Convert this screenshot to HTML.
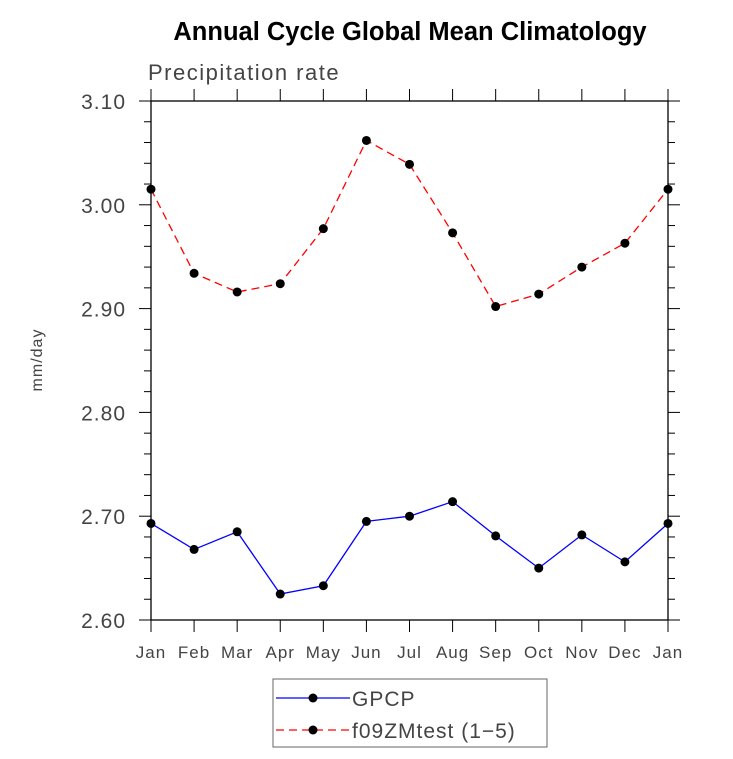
<!DOCTYPE html>
<html><head><meta charset="utf-8"><style>
body{margin:0;background:#fff}
svg text{font-family:"Liberation Sans","DejaVu Sans",sans-serif}
</style></head><body>
<svg id="c" width="733" height="754" xmlns="http://www.w3.org/2000/svg">
<rect width="733" height="754" fill="#fff"/>
<text x="410" y="40" font-size="25.5" font-weight="bold" text-anchor="middle">Annual Cycle Global Mean Climatology</text>
<text x="148" y="80" font-size="22" fill="#444" style="letter-spacing:1.5px">Precipitation rate</text>
<text transform="translate(42,360) rotate(-90)" font-size="16" fill="#444" text-anchor="middle" style="letter-spacing:1px">mm/day</text>
<g id="ax"></g>
<g id="marks"></g>
<rect x="273" y="679" width="274" height="68" fill="none" stroke="#666"/>
<line x1="276" y1="698" x2="350" y2="698" stroke="#00f" stroke-width="1.3"/>
<circle cx="313" cy="698" r="4.5" fill="#000"/>
<text x="352" y="706" font-size="21" fill="#444" style="letter-spacing:1px">GPCP</text>
<line x1="276" y1="730" x2="350" y2="730" stroke="#f00" stroke-width="1.3" stroke-dasharray="8,5"/>
<circle cx="313" cy="730" r="4.5" fill="#000"/>
<text x="352" y="738" font-size="21" fill="#444" style="letter-spacing:1px">f09ZMtest (1−5)</text>
</svg>
<script>
const months=["Jan","Feb","Mar","Apr","May","Jun","Jul","Aug","Sep","Oct","Nov","Dec","Jan"];
const gpcp=[2.693,2.668,2.685,2.625,2.633,2.695,2.700,2.714,2.681,2.650,2.682,2.656,2.693];
const model=[3.015,2.934,2.916,2.924,2.977,3.062,3.039,2.973,2.902,2.914,2.940,2.963,3.015];
const yTicks=["2.60","2.70","2.80","2.90","3.00","3.10"];
const NS="http://www.w3.org/2000/svg";
const L=151,R=668,T=101,B=620,ymin=2.6,ymax=3.1;
const xs=i=>L+(R-L)*i/(months.length-1);
const ys=v=>B-(v-ymin)/(ymax-ymin)*(B-T);
function mk(t,a,p){const e=document.createElementNS(NS,t);for(const k in a)e.setAttribute(k,a[k]);p.appendChild(e);return e;}
const ax=document.getElementById('ax'),mg=document.getElementById('marks');
const fr=mk('rect',{x:L,y:T,width:R-L,height:B-T,fill:'none',stroke:'#000','stroke-width':1.3},ax);


for(let i=0;i<months.length;i++){const x=xs(i);
 const t1=mk('line',{x1:x,y1:B,x2:x,y2:B+12,stroke:'#000'},ax);
 
 
 const t2=mk('line',{x1:x,y1:T,x2:x,y2:T-12,stroke:'#000'},ax);
 
 
 const tx=mk('text',{x:x,y:B+38,'font-size':17,fill:'#444','text-anchor':'middle',style:'letter-spacing:1px'},ax);tx.textContent=months[i];
 
 
}
for(let v=ymin;v<=ymax+1e-9;v+=0.02){const y=ys(v);const maj=Math.abs(Math.round(v*10)-v*10)<1e-6;const len=maj?12:7;
 const a=mk('line',{x1:L,y1:y,x2:L-len,y2:y,stroke:'#000'},ax);
 
 
 const b=mk('line',{x1:R,y1:y,x2:R+len,y2:y,stroke:'#000'},ax);
 
 
}
yTicks.forEach(s=>{const y=ys(parseFloat(s));
 const t=mk('text',{x:126,y:y+8,'font-size':21,fill:'#444','text-anchor':'end',style:'letter-spacing:1px'},ax);t.textContent=s;
 
 
});
function series(d,col,dash,name){
 const pl=mk('polyline',{points:d.map((v,i)=>xs(i)+','+ys(v)).join(' '),fill:'none',stroke:col,'stroke-width':1.3,'stroke-dasharray':dash},mg);
 
 
 d.forEach((v,i)=>{const c=mk('circle',{cx:xs(i),cy:ys(v),r:4.5,fill:'#000'},mg);
  
  });
}
series(model,'#f00','8,5','model');
series(gpcp,'#00f','none','gpcp');
</script>
</body></html>
